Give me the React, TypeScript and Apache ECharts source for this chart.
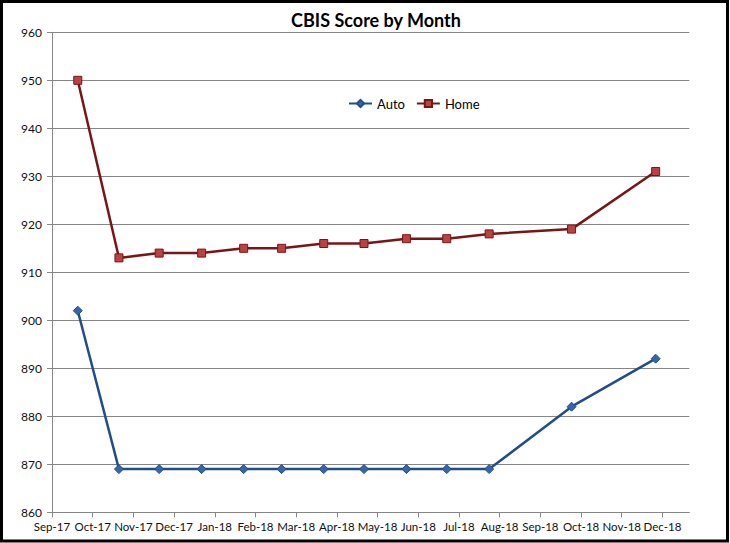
import React, { useEffect, useRef } from "react";
import * as echarts from "echarts";

// Data
const pointDates = [
  "2017-09-20", "2017-10-21", "2017-11-20", "2017-12-22", "2018-01-23",
  "2018-02-19", "2018-03-22", "2018-04-21", "2018-05-23", "2018-06-22",
  "2018-07-24", "2018-09-24", "2018-11-26",
];
const autoScores = [902, 869, 869, 869, 869, 869, 869, 869, 869, 869, 869, 882, 892];
const homeScores = [950, 913, 914, 914, 915, 915, 916, 916, 917, 917, 918, 919, 931];
const monthLabels = [
  "Sep-17", "Oct-17", "Nov-17", "Dec-17", "Jan-18", "Feb-18", "Mar-18", "Apr-18",
  "May-18", "Jun-18", "Jul-18", "Aug-18", "Sep-18", "Oct-18", "Nov-18", "Dec-18",
];
const yTicks = [860, 870, 880, 890, 900, 910, 920, 930, 940, 950, 960];

const START_YEAR = 2017;
const START_MONTH = 9;

function monthIndex(dateStr: string): number {
  const [y, m, d] = dateStr.split("-").map(Number);
  const daysInMonth = new Date(y, m, 0).getDate();
  return (y - START_YEAR) * 12 + (m - START_MONTH) + (d - 1) / daysInMonth;
}

const FONT = "Lato, 'Liberation Sans', sans-serif";

export default function App() {
  const ref = useRef<HTMLDivElement>(null);

  useEffect(() => {
    if (!ref.current) return;
    const chart = echarts.init(ref.current, undefined, { renderer: "svg" });
    const tickIdx = monthLabels.map((_, i) => i);
    const autoData = pointDates.map((d, i) => [monthIndex(d), autoScores[i]]);
    const homeData = pointDates.map((d, i) => [monthIndex(d), homeScores[i]]);

    chart.setOption({
      animation: false,
      backgroundColor: "#ffffff",
      textStyle: { fontFamily: FONT },
      title: {
        text: "CBIS Score by Month",
        left: 371,
        textAlign: "center",
        top: 6,
        textStyle: { fontFamily: FONT, fontSize: 18, fontWeight: "bold", color: "#000" },
      },
      legend: {
        left: 348,
        top: 97,
        padding: 0,
        itemWidth: 23,
        itemHeight: 9,
        itemGap: 11,
        textStyle: { fontFamily: FONT, fontSize: 13, color: "#000" },
        data: ["Auto", "Home"],
      },
      grid: { left: 52, right: 40.7, top: 32.3, bottom: 30.7, containLabel: false },
      xAxis: {
        type: "value",
        min: 0,
        max: 15.66,
        interval: 1,
        axisLine: { show: true, lineStyle: { color: "#868686", width: 1 } },
        axisTick: { show: true, length: 5, lineStyle: { color: "#868686" }, customValues: tickIdx },
        axisLabel: {
          customValues: tickIdx,
          formatter: (v: number) => monthLabels[Math.round(v)] ?? "",
          fontFamily: FONT,
          fontSize: 11.5,
          color: "#111",
          margin: 8,
        },
        splitLine: { show: false },
      },
      yAxis: {
        type: "value",
        min: yTicks[0],
        max: yTicks[yTicks.length - 1],
        interval: 10,
        axisLine: { show: true, lineStyle: { color: "#868686", width: 1 } },
        axisTick: { show: true, length: 5, lineStyle: { color: "#868686" } },
        axisLabel: { fontFamily: FONT, fontSize: 12, color: "#111", margin: 10 },
        splitLine: { show: true, lineStyle: { color: "#868686", width: 1 } },
      },
      series: [
        {
          name: "Auto",
          type: "line",
          data: autoData,
          symbol: "diamond",
          symbolSize: 9,
          lineStyle: { color: "#1F4E8C", width: 2.5 },
          itemStyle: { color: "#3567A8", borderColor: "#1F4E8C", borderWidth: 1 },
        },
        {
          name: "Home",
          type: "line",
          data: homeData,
          symbol: "rect",
          symbolSize: 8,
          lineStyle: { color: "#7A1515", width: 2.5 },
          itemStyle: { color: "#B94242", borderColor: "#7A1515", borderWidth: 1 },
        },
      ],
      graphic: [
        {
          type: "rect",
          shape: { x: 1.5, y: 1.5, width: 726, height: 539.5 },
          style: { fill: "none", stroke: "#000", lineWidth: 3 },
          silent: true,
          z: 100,
        },
      ],
    });
    return () => chart.dispose();
  }, []);

  return (
    <div
      ref={ref}
      style={{ position: "absolute", left: 0, top: 0, width: 730, height: 543 }}
    />
  );
}
